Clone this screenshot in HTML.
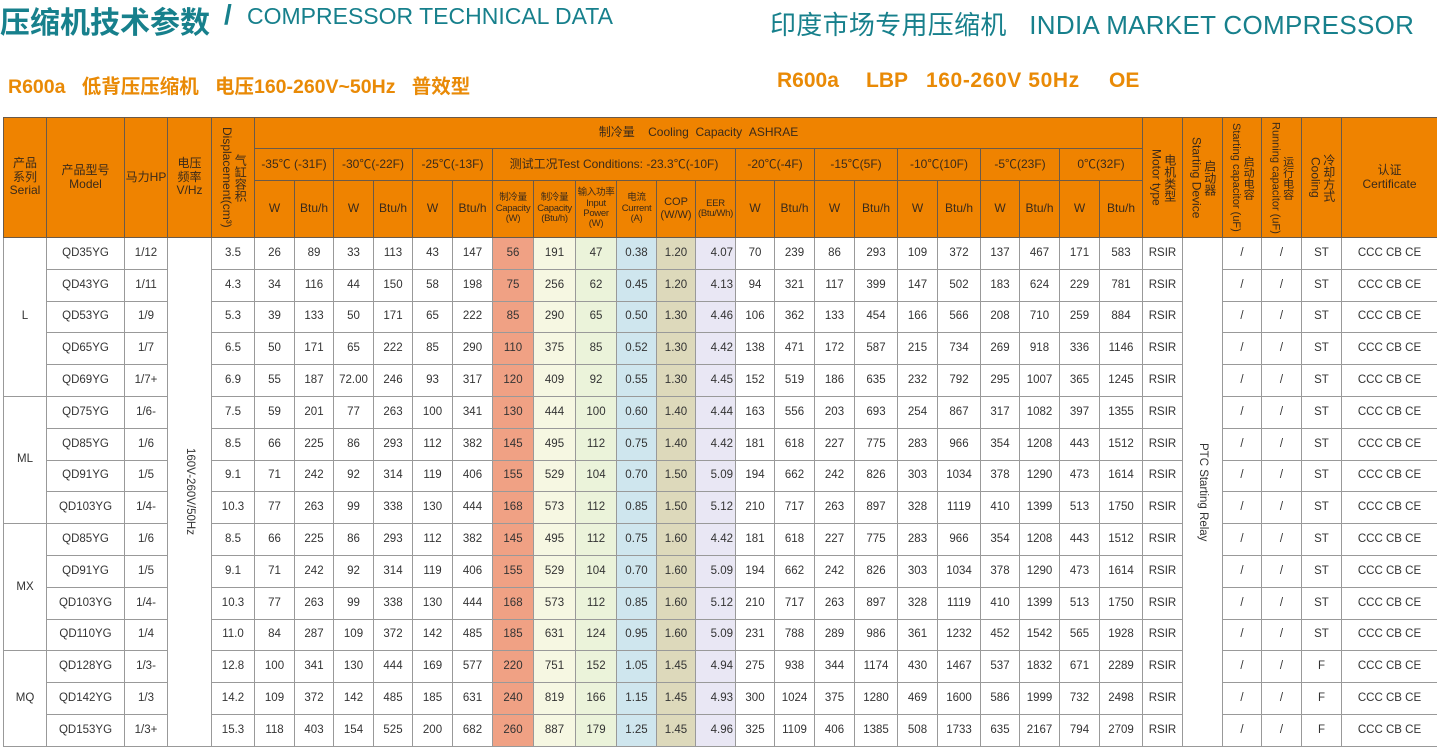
<!DOCTYPE html>
<html><head><meta charset="utf-8"><style>
body{margin:0;width:1437px;height:749px;background:#fff;position:relative;overflow:hidden;font-family:"Liberation Sans","Noto Sans CJK SC",sans-serif;}
.t{position:absolute;white-space:nowrap;}
.teal{color:#17808c;}
.org{color:#e98a06;font-weight:bold;font-size:19.5px;}
table{position:absolute;left:3px;top:117px;border-collapse:collapse;table-layout:fixed;width:1434px;font-family:"Liberation Sans","Noto Sans CJK SC",sans-serif;}
td{border:1px solid #6a5a4a;text-align:center;padding:0;font-size:11.5px;color:#333;overflow:hidden;line-height:1.15;}
thead td{background:#ef8300;color:#3a2a1a;font-size:12px;}
tbody td{border-color:#999;}
tbody tr{height:31.8px;}
.v{writing-mode:vertical-rl;margin:auto;text-align:center;line-height:1.1;}
.s{font-size:9.5px;line-height:1.1;letter-spacing:-0.3px;}
.cw{background:#f0a184;}.cb{background:#f6f7e2;}.ci{background:#ebf3da;}.cc{background:#cfe6ee;}.co{background:#ddd9bb;}.ce{background:#e9e7f4;text-align:right;padding-right:2px;}
</style></head><body>
<div class="t teal" style="left:0;top:-2px;font-size:30px;font-weight:bold;">压缩机技术参数</div>
<div class="t teal" style="left:224px;top:-1px;font-size:28px;font-weight:bold;">/</div>
<div class="t teal" style="left:247px;top:3px;font-size:23px;">COMPRESSOR TECHNICAL DATA</div>
<div class="t teal" style="left:770px;top:5px;font-size:26px;letter-spacing:0.3px;">印度市场专用压缩机&nbsp;&nbsp;&nbsp;INDIA MARKET COMPRESSOR</div>
<div class="t org" style="left:8px;top:70px;">R600a&nbsp;&nbsp;&nbsp;低背压压缩机&nbsp;&nbsp;&nbsp;电压160-260V~50Hz&nbsp;&nbsp;&nbsp;普效型</div>
<div class="t org" style="left:777px;top:69px;font-size:21px;">R600a</div>
<div class="t org" style="left:866px;top:69px;font-size:21px;">LBP</div>
<div class="t org" style="left:926px;top:69px;font-size:21px;letter-spacing:0.6px;">160-260V 50Hz</div>
<div class="t org" style="left:1109px;top:69px;font-size:21px;">OE</div>
<table>
<colgroup><col style="width:43px"><col style="width:78px"><col style="width:43px"><col style="width:44px"><col style="width:43px"><col style="width:40px"><col style="width:39px"><col style="width:40px"><col style="width:39px"><col style="width:40px"><col style="width:40px"><col style="width:41px"><col style="width:42px"><col style="width:41px"><col style="width:40px"><col style="width:39px"><col style="width:40px"><col style="width:39px"><col style="width:40px"><col style="width:40px"><col style="width:43px"><col style="width:40px"><col style="width:43px"><col style="width:39px"><col style="width:40px"><col style="width:40px"><col style="width:43px"><col style="width:40px"><col style="width:40px"><col style="width:39px"><col style="width:40px"><col style="width:40px"><col style="width:96px"></colgroup>
<thead>
<tr style="height:31px"><td rowspan="3">产品<br>系列<br>Serial</td><td rowspan="3">产品型号<br>Model</td><td rowspan="3">马力HP</td><td rowspan="3">电压<br>频率<br>V/Hz</td><td rowspan="3"><div class="v" style="height:110px">气缸容积<br>Displacement(cm³)</div></td><td colspan="22">制冷量&nbsp;&nbsp;&nbsp;&nbsp;Cooling&nbsp;&nbsp;Capacity&nbsp;&nbsp;ASHRAE</td><td rowspan="3"><div class="v" style="height:110px">电机类型<br>Motor type</div></td><td rowspan="3"><div class="v" style="height:110px">启动器<br>Starting Device</div></td><td rowspan="3"><div class="v" style="height:116px;font-size:11px">启动电容<br>Starting capacitor (uF)</div></td><td rowspan="3"><div class="v" style="height:116px;font-size:11px">运行电容<br>Running capacitor (uF)</div></td><td rowspan="3"><div class="v" style="height:110px">冷却方式<br>Cooling</div></td><td rowspan="3">认证<br>Certificate</td></tr>
<tr style="height:32px"><td colspan="2">-35℃ (-31F)</td><td colspan="2">-30℃(-22F)</td><td colspan="2">-25℃(-13F)</td><td colspan="6">测试工况Test Conditions: -23.3℃(-10F)</td><td colspan="2">-20℃(-4F)</td><td colspan="2">-15℃(5F)</td><td colspan="2">-10℃(10F)</td><td colspan="2">-5℃(23F)</td><td colspan="2">0℃(32F)</td></tr>
<tr style="height:57px"><td>W</td><td>Btu/h</td><td>W</td><td>Btu/h</td><td>W</td><td>Btu/h</td><td class="s">制冷量<br>Capacity<br>(W)</td><td class="s">制冷量<br>Capacity<br>(Btu/h)</td><td class="s">输入功率<br>Input<br>Power<br>(W)</td><td class="s">电流<br>Current<br>(A)</td><td style="font-size:11px">COP<br>(W/W)</td><td class="s">EER<br>(Btu/Wh)</td><td>W</td><td>Btu/h</td><td>W</td><td>Btu/h</td><td>W</td><td>Btu/h</td><td>W</td><td>Btu/h</td><td>W</td><td>Btu/h</td></tr>
</thead>
<tbody>
<tr><td rowspan="5">L</td><td>QD35YG</td><td>1/12</td><td rowspan="16"><div class="v">160V-260V/50Hz</div></td><td>3.5</td><td>26</td><td>89</td><td>33</td><td>113</td><td>43</td><td>147</td><td class="cw">56</td><td class="cb">191</td><td class="ci">47</td><td class="cc">0.38</td><td class="co">1.20</td><td class="ce">4.07</td><td>70</td><td>239</td><td>86</td><td>293</td><td>109</td><td>372</td><td>137</td><td>467</td><td>171</td><td>583</td><td>RSIR</td><td rowspan="16"><div class="v">PTC Starting Relay</div></td><td>/</td><td>/</td><td>ST</td><td>CCC CB CE</td></tr>
<tr><td>QD43YG</td><td>1/11</td><td>4.3</td><td>34</td><td>116</td><td>44</td><td>150</td><td>58</td><td>198</td><td class="cw">75</td><td class="cb">256</td><td class="ci">62</td><td class="cc">0.45</td><td class="co">1.20</td><td class="ce">4.13</td><td>94</td><td>321</td><td>117</td><td>399</td><td>147</td><td>502</td><td>183</td><td>624</td><td>229</td><td>781</td><td>RSIR</td><td>/</td><td>/</td><td>ST</td><td>CCC CB CE</td></tr>
<tr><td>QD53YG</td><td>1/9</td><td>5.3</td><td>39</td><td>133</td><td>50</td><td>171</td><td>65</td><td>222</td><td class="cw">85</td><td class="cb">290</td><td class="ci">65</td><td class="cc">0.50</td><td class="co">1.30</td><td class="ce">4.46</td><td>106</td><td>362</td><td>133</td><td>454</td><td>166</td><td>566</td><td>208</td><td>710</td><td>259</td><td>884</td><td>RSIR</td><td>/</td><td>/</td><td>ST</td><td>CCC CB CE</td></tr>
<tr><td>QD65YG</td><td>1/7</td><td>6.5</td><td>50</td><td>171</td><td>65</td><td>222</td><td>85</td><td>290</td><td class="cw">110</td><td class="cb">375</td><td class="ci">85</td><td class="cc">0.52</td><td class="co">1.30</td><td class="ce">4.42</td><td>138</td><td>471</td><td>172</td><td>587</td><td>215</td><td>734</td><td>269</td><td>918</td><td>336</td><td>1146</td><td>RSIR</td><td>/</td><td>/</td><td>ST</td><td>CCC CB CE</td></tr>
<tr><td>QD69YG</td><td>1/7+</td><td>6.9</td><td>55</td><td>187</td><td>72.00</td><td>246</td><td>93</td><td>317</td><td class="cw">120</td><td class="cb">409</td><td class="ci">92</td><td class="cc">0.55</td><td class="co">1.30</td><td class="ce">4.45</td><td>152</td><td>519</td><td>186</td><td>635</td><td>232</td><td>792</td><td>295</td><td>1007</td><td>365</td><td>1245</td><td>RSIR</td><td>/</td><td>/</td><td>ST</td><td>CCC CB CE</td></tr>
<tr><td rowspan="4">ML</td><td>QD75YG</td><td>1/6-</td><td>7.5</td><td>59</td><td>201</td><td>77</td><td>263</td><td>100</td><td>341</td><td class="cw">130</td><td class="cb">444</td><td class="ci">100</td><td class="cc">0.60</td><td class="co">1.40</td><td class="ce">4.44</td><td>163</td><td>556</td><td>203</td><td>693</td><td>254</td><td>867</td><td>317</td><td>1082</td><td>397</td><td>1355</td><td>RSIR</td><td>/</td><td>/</td><td>ST</td><td>CCC CB CE</td></tr>
<tr><td>QD85YG</td><td>1/6</td><td>8.5</td><td>66</td><td>225</td><td>86</td><td>293</td><td>112</td><td>382</td><td class="cw">145</td><td class="cb">495</td><td class="ci">112</td><td class="cc">0.75</td><td class="co">1.40</td><td class="ce">4.42</td><td>181</td><td>618</td><td>227</td><td>775</td><td>283</td><td>966</td><td>354</td><td>1208</td><td>443</td><td>1512</td><td>RSIR</td><td>/</td><td>/</td><td>ST</td><td>CCC CB CE</td></tr>
<tr><td>QD91YG</td><td>1/5</td><td>9.1</td><td>71</td><td>242</td><td>92</td><td>314</td><td>119</td><td>406</td><td class="cw">155</td><td class="cb">529</td><td class="ci">104</td><td class="cc">0.70</td><td class="co">1.50</td><td class="ce">5.09</td><td>194</td><td>662</td><td>242</td><td>826</td><td>303</td><td>1034</td><td>378</td><td>1290</td><td>473</td><td>1614</td><td>RSIR</td><td>/</td><td>/</td><td>ST</td><td>CCC CB CE</td></tr>
<tr><td>QD103YG</td><td>1/4-</td><td>10.3</td><td>77</td><td>263</td><td>99</td><td>338</td><td>130</td><td>444</td><td class="cw">168</td><td class="cb">573</td><td class="ci">112</td><td class="cc">0.85</td><td class="co">1.50</td><td class="ce">5.12</td><td>210</td><td>717</td><td>263</td><td>897</td><td>328</td><td>1119</td><td>410</td><td>1399</td><td>513</td><td>1750</td><td>RSIR</td><td>/</td><td>/</td><td>ST</td><td>CCC CB CE</td></tr>
<tr><td rowspan="4">MX</td><td>QD85YG</td><td>1/6</td><td>8.5</td><td>66</td><td>225</td><td>86</td><td>293</td><td>112</td><td>382</td><td class="cw">145</td><td class="cb">495</td><td class="ci">112</td><td class="cc">0.75</td><td class="co">1.60</td><td class="ce">4.42</td><td>181</td><td>618</td><td>227</td><td>775</td><td>283</td><td>966</td><td>354</td><td>1208</td><td>443</td><td>1512</td><td>RSIR</td><td>/</td><td>/</td><td>ST</td><td>CCC CB CE</td></tr>
<tr><td>QD91YG</td><td>1/5</td><td>9.1</td><td>71</td><td>242</td><td>92</td><td>314</td><td>119</td><td>406</td><td class="cw">155</td><td class="cb">529</td><td class="ci">104</td><td class="cc">0.70</td><td class="co">1.60</td><td class="ce">5.09</td><td>194</td><td>662</td><td>242</td><td>826</td><td>303</td><td>1034</td><td>378</td><td>1290</td><td>473</td><td>1614</td><td>RSIR</td><td>/</td><td>/</td><td>ST</td><td>CCC CB CE</td></tr>
<tr><td>QD103YG</td><td>1/4-</td><td>10.3</td><td>77</td><td>263</td><td>99</td><td>338</td><td>130</td><td>444</td><td class="cw">168</td><td class="cb">573</td><td class="ci">112</td><td class="cc">0.85</td><td class="co">1.60</td><td class="ce">5.12</td><td>210</td><td>717</td><td>263</td><td>897</td><td>328</td><td>1119</td><td>410</td><td>1399</td><td>513</td><td>1750</td><td>RSIR</td><td>/</td><td>/</td><td>ST</td><td>CCC CB CE</td></tr>
<tr><td>QD110YG</td><td>1/4</td><td>11.0</td><td>84</td><td>287</td><td>109</td><td>372</td><td>142</td><td>485</td><td class="cw">185</td><td class="cb">631</td><td class="ci">124</td><td class="cc">0.95</td><td class="co">1.60</td><td class="ce">5.09</td><td>231</td><td>788</td><td>289</td><td>986</td><td>361</td><td>1232</td><td>452</td><td>1542</td><td>565</td><td>1928</td><td>RSIR</td><td>/</td><td>/</td><td>ST</td><td>CCC CB CE</td></tr>
<tr><td rowspan="3">MQ</td><td>QD128YG</td><td>1/3-</td><td>12.8</td><td>100</td><td>341</td><td>130</td><td>444</td><td>169</td><td>577</td><td class="cw">220</td><td class="cb">751</td><td class="ci">152</td><td class="cc">1.05</td><td class="co">1.45</td><td class="ce">4.94</td><td>275</td><td>938</td><td>344</td><td>1174</td><td>430</td><td>1467</td><td>537</td><td>1832</td><td>671</td><td>2289</td><td>RSIR</td><td>/</td><td>/</td><td>F</td><td>CCC CB CE</td></tr>
<tr><td>QD142YG</td><td>1/3</td><td>14.2</td><td>109</td><td>372</td><td>142</td><td>485</td><td>185</td><td>631</td><td class="cw">240</td><td class="cb">819</td><td class="ci">166</td><td class="cc">1.15</td><td class="co">1.45</td><td class="ce">4.93</td><td>300</td><td>1024</td><td>375</td><td>1280</td><td>469</td><td>1600</td><td>586</td><td>1999</td><td>732</td><td>2498</td><td>RSIR</td><td>/</td><td>/</td><td>F</td><td>CCC CB CE</td></tr>
<tr><td>QD153YG</td><td>1/3+</td><td>15.3</td><td>118</td><td>403</td><td>154</td><td>525</td><td>200</td><td>682</td><td class="cw">260</td><td class="cb">887</td><td class="ci">179</td><td class="cc">1.25</td><td class="co">1.45</td><td class="ce">4.96</td><td>325</td><td>1109</td><td>406</td><td>1385</td><td>508</td><td>1733</td><td>635</td><td>2167</td><td>794</td><td>2709</td><td>RSIR</td><td>/</td><td>/</td><td>F</td><td>CCC CB CE</td></tr>
</tbody></table>
</body></html>
